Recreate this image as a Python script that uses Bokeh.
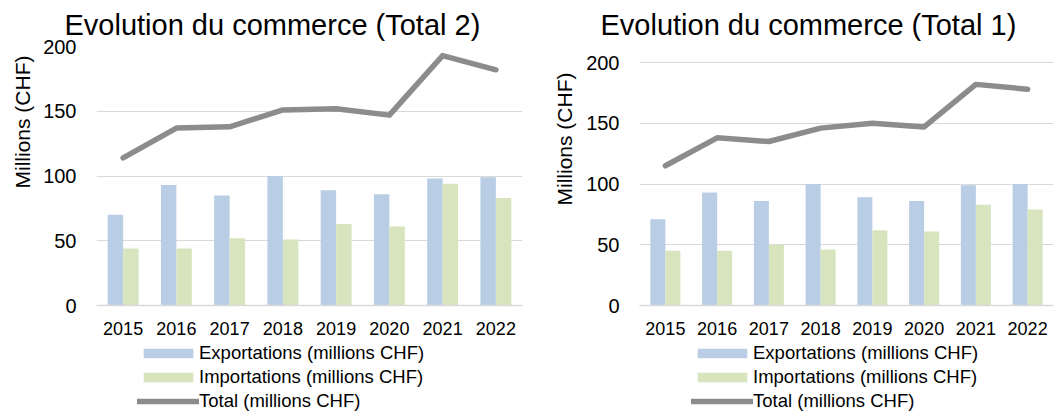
from bokeh.plotting import figure
from bokeh.layouts import row, column
from bokeh.models import (ColumnDataSource, FactorRange, Range1d, FixedTicker,
                          Legend, LegendItem, Title)
from bokeh.transform import dodge
from bokeh.embed import file_html
from bokeh.resources import INLINE

years = ["2015", "2016", "2017", "2018", "2019", "2020", "2021", "2022"]

# Chart "Total 2"
exports_t2 = [70, 93, 85, 100, 89, 86, 98, 99]
imports_t2 = [44, 44, 52, 51, 63, 61, 94, 83]
total_t2 = [114, 137, 138, 151, 152, 147, 193, 182]

# Chart "Total 1"
exports_t1 = [71, 93, 86, 100, 89, 86, 99, 100]
imports_t1 = [45, 45, 50, 46, 62, 61, 83, 79]
total_t1 = [115, 138, 135, 146, 150, 147, 182, 178]

y_ticks = [0, 50, 100, 150, 200]
title_t2 = "Evolution du commerce (Total 2)"
title_t1 = "Evolution du commerce (Total 1)"
y_title = "Millions (CHF)"
legend_labels = ["Exportations (millions CHF)", "Importations (millions CHF)", "Total (millions CHF)"]

BLUE = "#b9cde5"
GREEN = "#d7e4bd"
GREY = "#8c8c8c"
FONT = "Liberation Sans"
LINE_W = 5.5


def make_chart(src, title, width, y_end, bl, br,
               title_offset, title_standoff, ytitle_offset, ytitle_standoff):
    p = figure(x_range=FactorRange(*years), y_range=Range1d(0, y_end),
               width=width, height=337, output_backend="svg",
               toolbar_location=None, min_border_left=bl, min_border_right=br,
               min_border_top=45, min_border_bottom=31)
    p.outline_line_color = None
    p.background_fill_color = "white"
    p.border_fill_color = "white"

    p.title.text = title
    p.title.align = "left"
    p.title.offset = title_offset
    p.title.standoff = title_standoff
    p.title.text_font = FONT
    p.title.text_font_size = "29px"
    p.title.text_font_style = "normal"
    p.title.text_color = "#000000"

    p.vbar(x=dodge("year", -0.145, range=p.x_range), top="exp", width=0.29,
           source=src, fill_color=BLUE, line_color=None)
    p.vbar(x=dodge("year", 0.145, range=p.x_range), top="imp", width=0.29,
           source=src, fill_color=GREEN, line_color=None)
    p.line(x="year", y="tot", source=src, line_color=GREY, line_width=LINE_W,
           line_cap="round", line_join="round")

    p.xgrid.grid_line_color = None
    p.ygrid.grid_line_color = "#d9d9d9"
    p.ygrid.grid_line_width = 1
    p.yaxis.ticker = FixedTicker(ticks=y_ticks)
    p.yaxis.axis_line_color = None
    p.yaxis.major_tick_line_color = None
    p.yaxis.minor_tick_line_color = None
    p.yaxis.major_label_text_font = FONT
    p.yaxis.major_label_text_font_size = "20px"
    p.yaxis.major_label_text_color = "#000000"
    p.yaxis.major_label_standoff = 14

    p.xaxis.axis_line_color = "#d9d9d9"
    p.xaxis.axis_line_width = 1.5
    p.xaxis.major_tick_line_color = None
    p.xaxis.minor_tick_line_color = None
    p.xaxis.major_label_text_font = FONT
    p.xaxis.major_label_text_font_size = "18px"
    p.xaxis.major_label_text_color = "#000000"
    p.xaxis.major_label_standoff = 10

    p.add_layout(Title(text=y_title, align="right", offset=ytitle_offset,
                       standoff=ytitle_standoff, text_font=FONT,
                       text_font_size="21px", text_font_style="normal",
                       text_color="#000000"), "left")
    return p


def make_legend(src, width, leg_x):
    lf = figure(width=width, height=75, output_backend="svg", toolbar_location=None,
                x_axis_type=None, y_axis_type=None,
                x_range=FactorRange(*years), y_range=Range1d(0, 1),
                min_border_left=0, min_border_right=0, min_border_top=0,
                min_border_bottom=0)
    lf.outline_line_color = None
    lf.xgrid.grid_line_color = None
    lf.ygrid.grid_line_color = None
    g1 = lf.vbar(x="year", top="exp", width=0.29, source=src, fill_color=BLUE,
                 line_color=None, visible=False)
    g2 = lf.vbar(x="year", top="imp", width=0.29, source=src, fill_color=GREEN,
                 line_color=None, visible=False)
    g3 = lf.line(x="year", y="tot", source=src, line_color=GREY, line_width=LINE_W,
                 line_cap="round", visible=False)
    legend = Legend(items=[LegendItem(label=legend_labels[0], renderers=[g1]),
                           LegendItem(label=legend_labels[1], renderers=[g2]),
                           LegendItem(label=legend_labels[2], renderers=[g3])],
                    location=(leg_x, 0), orientation="vertical",
                    glyph_width=62, glyph_height=12, label_height=21,
                    spacing=2, padding=0, margin=0, label_standoff=0,
                    label_text_font=FONT, label_text_font_size="18.5px",
                    label_text_color="#000000", border_line_color=None,
                    background_fill_alpha=0, inactive_fill_alpha=0)
    lf.add_layout(legend, "center")
    return lf


src_t2 = ColumnDataSource(dict(year=years, exp=exports_t2, imp=imports_t2, tot=total_t2))
src_t1 = ColumnDataSource(dict(year=years, exp=exports_t1, imp=imports_t1, tot=total_t1))

left = make_chart(src_t2, title_t2, width=530, y_end=200, bl=96, br=8,
                  title_offset=-32, title_standoff=12,
                  ytitle_offset=9, ytitle_standoff=14)
right = make_chart(src_t1, title_t1, width=529, y_end=214, bl=109, br=6,
                   title_offset=-39, title_standoff=10,
                   ytitle_offset=27, ytitle_standoff=16)
left_leg = make_legend(src_t2, 530, 41)
right_leg = make_legend(src_t1, 529, 52)

layout = row(column(left, left_leg), column(right, right_leg))
open("out.html", "w").write(file_html(layout, INLINE))
